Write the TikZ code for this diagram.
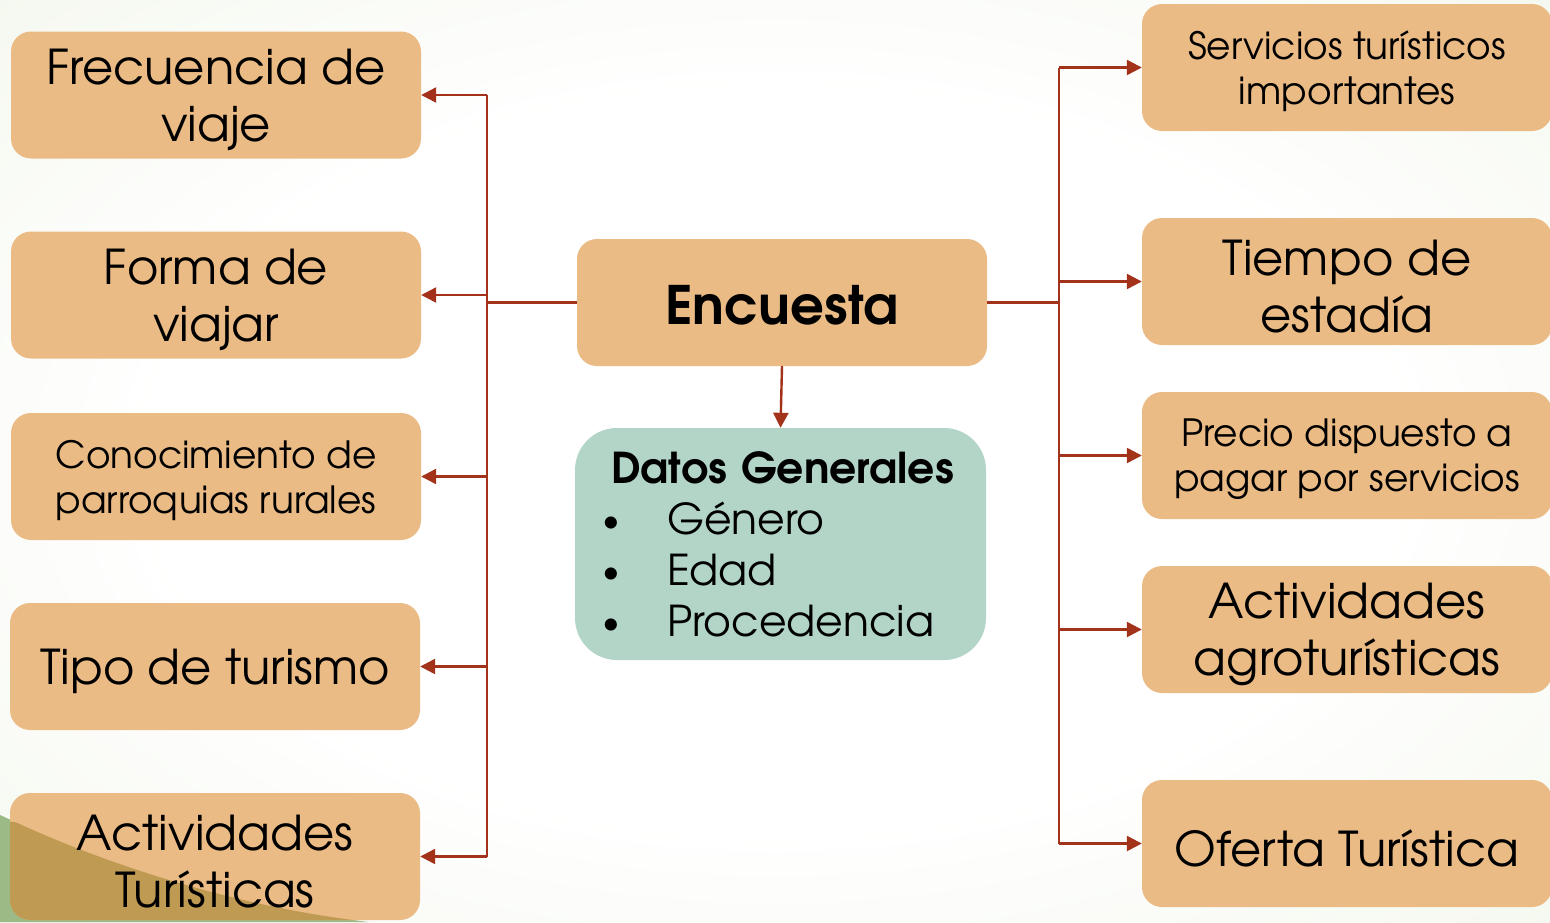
\documentclass[tikz,border=0pt]{standalone}
\usepackage{fontspec}
\setmainfont{TeX Gyre Adventor}
\usetikzlibrary{arrows.meta}
\definecolor{boxc}{HTML}{EBBB86}
\definecolor{datosc}{HTML}{B3D5C8}
\definecolor{linec}{HTML}{A3321A}
\definecolor{bgE}{HTML}{ECF2E1}
\definecolor{bgC}{HTML}{E2EBD1}
\definecolor{wedgeG}{HTML}{9BBA86}
\definecolor{wedgeB}{HTML}{BF9A52}
\pgfdeclareradialshading{bgshade}{\pgfpoint{0bp}{0bp}}{color(0bp)=(white); color(20bp)=(white); color(50bp)=(bgE); color(72bp)=(bgC)}
\tikzset{
  box/.style={fill=boxc, rounded corners=20pt, minimum width=410pt, minimum height=127pt, inner sep=0pt},
  txt/.style={align=center, inner sep=0pt, text=black},
  big/.style={txt, font=\fontsize{48}{57}\selectfont},
  small/.style={txt, font=\fontsize{37.5}{45}\selectfont},
  conn/.style={draw=linec, line width=2.4pt},
  arr/.style={conn, -{Triangle[length=15pt,width=15pt]}},
}
\newcommand\bullitem[1]{\makebox[56pt][l]{\hspace*{-9pt}\raisebox{3pt}{\fontsize{34}{34}\selectfont•}}#1}
\begin{document}
\begin{tikzpicture}[x=1pt,y=-1pt]
\useasboundingbox (0,0) rectangle (1550,922);
\clip (0,0) rectangle (1550,922);
\shade[shading=bgshade] (0,0) rectangle (1550,922);
% bottom-left wedge
\coordinate (w0) at (0,815);
\coordinate (w1) at (120,870);
\coordinate (w2) at (240,905);
\coordinate (w3) at (368,922);
\coordinate (w4) at (0,922);
\fill[wedgeG] (w0) .. controls (w1) and (w2) .. (w3) -- (w4) -- cycle;

% left boxes
\node[box] (l1) at (216,95) {};
\node[box] (l2) at (216,295) {};
\node[box] (l3) at (216,476.5) {};
\node[box] (l4) at (215,666.5) {};
\node[box, path picture={\fill[wedgeB] (w0) .. controls (w1) and (w2) .. (w3) -- (w4) -- cycle;}] (l5) at (215,856.5) {};
\node[big] (l1t) at ([yshift=-5pt]l1.center) {Frecuencia de\\viaje};
\node[big] (l2t) at ([yshift=-5pt]l2.center) {Forma de\\viajar};
\node[small] (l3t) at ([yshift=-4pt]l3.center) {Conocimiento de\\parroquias rurales};
\node[big] (l4t) at ([yshift=-5pt]l4.center) {Tipo de turismo};
\node[big] (l5t) at ([yshift=-5pt]l5.center) {Actividades\\Turísticas};

% center
\node[box] (enc) at (782,302.5) {};
\node[txt, font=\fontsize{53}{60}\selectfont\bfseries] (enct) at ([yshift=-3pt]enc.center) {Encuesta};
\node[fill=datosc, rounded corners=42pt, minimum width=411pt, minimum height=232pt, inner xsep=36pt, text width=339pt, align=left, font=\fontsize{42.5}{51}\selectfont] (datos) at (780.5,544)
  {\mbox{\fontsize{42.5}{51}\selectfont\bfseries Datos Generales}\\
   \bullitem{Género}\\
   \bullitem{Edad}\\
   \bullitem{Procedencia}};

% right boxes
\node[box] (r1) at (1347,67.5) {};
\node[box] (r2) at (1347,281.5) {};
\node[box] (r3) at (1347,455.5) {};
\node[box] (r4) at (1347,629.5) {};
\node[box] (r5) at (1347,843.5) {};
\node[small] (r1t) at ([yshift=-4pt]r1.center) {Servicios turísticos\\importantes};
\node[big] (r2t) at ([yshift=-5pt]r2.center) {Tiempo de\\estadía};
\node[small] (r3t) at ([yshift=-4pt]r3.center) {Precio dispuesto a\\pagar por servicios};
\node[big] (r4t) at ([yshift=-5pt]r4.center) {Actividades\\agroturísticas};
\node[big] (r5t) at ([yshift=-5pt]r5.center) {Oferta Turística};

% connectors
\coordinate (lbus) at (487,302.5);
\coordinate (rbus) at (1059,302.5);
\draw[conn] (enc.west) -- (lbus);
\draw[conn] (enc.east) -- (rbus);
\draw[conn] (lbus |- l1.east) -- (lbus |- l5.east);
\draw[conn] (rbus |- r1.west) -- (rbus |- r5.west);
\foreach \n in {l1,l2,l3,l4,l5}{\draw[arr] (lbus |- \n.east) -- (\n.east);}
\foreach \n in {r1,r2,r3,r4,r5}{\draw[arr] (rbus |- \n.west) -- (\n.west);}
\draw[arr] (enc.south) -- (datos.north);
\end{tikzpicture}
\end{document}
